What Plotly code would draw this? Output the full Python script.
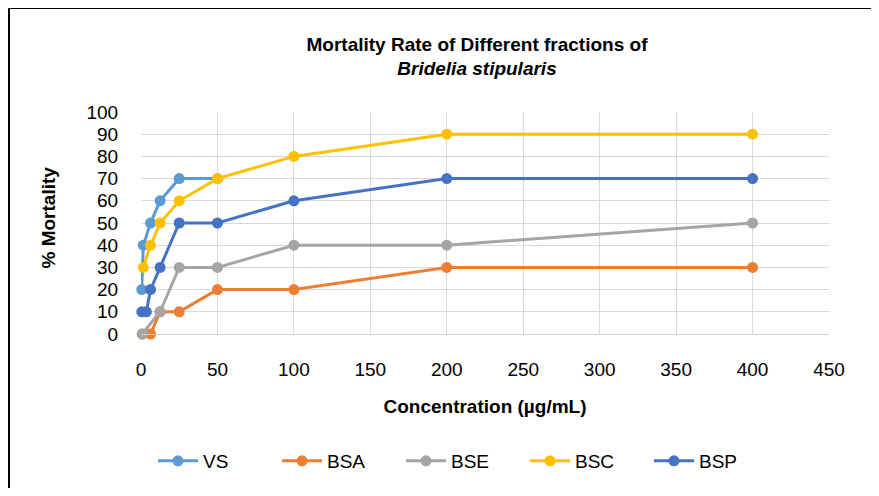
import plotly.graph_objects as go

# Data
vs_x = [0.5, 1.5, 6.25, 12.5, 25, 50]
vs_y = [20, 40, 50, 60, 70, 70]

bsa_x = [0.78, 6.25, 12.5, 25, 50, 100, 200, 400]
bsa_y = [0, 0, 10, 10, 20, 20, 30, 30]

bse_x = [0.78, 12.5, 25, 50, 100, 200, 400]
bse_y = [0, 10, 30, 30, 40, 40, 50]

bsc_x = [1.5, 6.25, 12.5, 25, 50, 100, 200, 400]
bsc_y = [30, 40, 50, 60, 70, 80, 90, 90]

bsp_x = [0.5, 3.5, 6.25, 12.5, 25, 50, 100, 200, 400]
bsp_y = [10, 10, 20, 30, 50, 50, 60, 70, 70]

series = [
    ("VS", vs_x, vs_y, "#5B9BD5"),
    ("BSA", bsa_x, bsa_y, "#ED7D31"),
    ("BSE", bse_x, bse_y, "#A5A5A5"),
    ("BSC", bsc_x, bsc_y, "#FFC000"),
    ("BSP", bsp_x, bsp_y, "#4472C4"),
]

x_ticks = [0, 50, 100, 150, 200, 250, 300, 350, 400, 450]
y_ticks = [0, 10, 20, 30, 40, 50, 60, 70, 80, 90, 100]

FONT = "Liberation Sans, Arial, sans-serif"
FS = 19

W, H = 863, 480
L, R, T, B = 133, 42, 104, 154
PW, PH = W - L - R, H - T - B

def px_x(fx):
    return (fx - L) / PW

def px_y(fy):
    return (H - B - fy) / PH

fig = go.Figure()
for name, xs, ys, col in series:
    fig.add_trace(go.Scatter(
        x=xs, y=ys, name=name, mode="lines+markers",
        line=dict(color=col, width=3),
        marker=dict(color=col, size=11),
        cliponaxis=False,
    ))

border = dict(color="black", width=2)

fig.update_layout(
    width=W, height=H,
    paper_bgcolor="white", plot_bgcolor="white",
    margin=dict(l=L, r=R, t=T, b=B, autoexpand=False),
    font=dict(family=FONT, color="black"),
    title=dict(
        text="<b>Mortality Rate of Different fractions of<br><i>Bridelia stipularis</i></b>",
        x=469 / W, xanchor="center", xref="container",
        y=1 - 42.5 / H, yanchor="middle", yref="container",
        font=dict(size=FS, family=FONT, color="black"),
    ),
    xaxis=dict(
        range=[0, 450], tickvals=x_ticks, ticktext=[str(v) for v in x_ticks],
        showgrid=True, gridcolor="#D9D9D9", gridwidth=1,
        showline=True, linecolor="#D0D0D0", linewidth=1,
        zeroline=False, ticks="outside", ticklen=18, tickcolor="rgba(0,0,0,0)",
        tickfont=dict(size=FS),
        title=dict(text="<b>Concentration (µg/mL)</b>", font=dict(size=FS), standoff=20),
    ),
    yaxis=dict(
        range=[0, 100], tickvals=y_ticks, ticktext=[str(v) for v in y_ticks],
        showgrid=True, gridcolor="#D9D9D9", gridwidth=1,
        showline=False, zeroline=False,
        ticks="outside", ticklen=18, tickcolor="rgba(0,0,0,0)",
        tickfont=dict(size=FS),
    ),
    annotations=[dict(
        text="<b>% Mortality</b>", textangle=-90, showarrow=False,
        xref="paper", yref="paper", x=px_x(40), y=px_y(209.5),
        xanchor="center", yanchor="middle", font=dict(size=FS),
    )],
    legend=dict(
        orientation="h", xref="container", x=145 / W, xanchor="left",
        y=px_y(453), yanchor="middle",
        font=dict(size=FS), itemwidth=40, entrywidth=69,
    ),
    shapes=[
        dict(type="line", xref="paper", yref="paper",
             x0=px_x(1), x1=px_x(1), y0=px_y(H + 20), y1=px_y(0), line=border),
        dict(type="line", xref="paper", yref="paper",
             x0=px_x(1), x1=px_x(W + 20), y0=px_y(0), y1=px_y(0), line=border),
    ],
)

fig.write_html("out.html")
